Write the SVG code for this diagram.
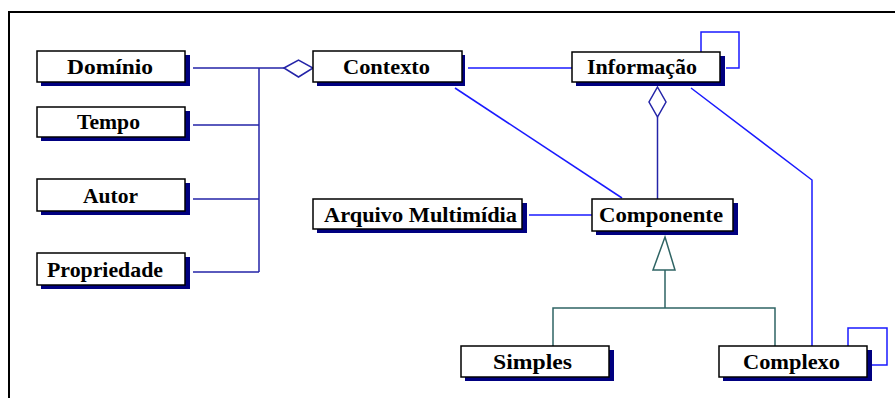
<svg xmlns="http://www.w3.org/2000/svg" width="895" height="398" viewBox="0 0 895 398">
<style>
.sh{fill:#000080}
.bx{fill:#fff;stroke:#000;stroke-width:1.5}
.t{font-family:"Liberation Serif","Times New Roman",serif;font-weight:bold;font-size:21.5px;fill:#000}
.nv{fill:none;stroke:#2424a8;stroke-width:1.5}
.bl{fill:none;stroke:#1a1aff;stroke-width:1.5}
.gn{fill:none;stroke:#2f6464;stroke-width:1.5}
</style>
<rect x="0" y="0" width="895" height="398" fill="#fff"/>
<path d="M9,398 V12 H895" fill="none" stroke="#000" stroke-width="2"/>
<g id="connectors">
<path class="nv" d="M193,68 H284 M259,68 V272 M193,125 H259 M193,199 H259 M193,272 H259"/>
<path class="nv" d="M284,68 L298.5,60 L313,68 L298.5,77 Z" fill="#fff"/>
<path class="bl" d="M468,68 H572"/>
<path class="nv" d="M657.5,117 V199"/>
<path class="nv" d="M657.5,87 L666,102 L657.5,117 L649,102 Z" fill="#fff"/>
<path class="bl" d="M455,88 L622,198"/>
<path class="bl" d="M691,88 L812,180 V346"/>
<path class="bl" d="M529,215 H592"/>
<path class="bl" d="M701,52 V32 H739 V68 H726"/>
<path class="bl" d="M848,346 V328 H887 V365 H872"/>
<path class="gn" d="M665,270 V308 M553,346 V308 H775 V346"/>
<path class="gn" d="M665,237 L675,270 H653 Z" fill="#fff"/>
</g>
<g id="dominio"><rect class="sh" x="41" y="55" width="149" height="31"/><rect class="bx" x="37" y="51" width="148" height="31"/><text class="t" x="67" y="74" textLength="86" lengthAdjust="spacingAndGlyphs">Domínio</text></g>
<g id="tempo"><rect class="sh" x="41" y="111" width="149" height="30"/><rect class="bx" x="37" y="107" width="148" height="30"/><text class="t" x="77" y="129" textLength="63" lengthAdjust="spacingAndGlyphs">Tempo</text></g>
<g id="autor"><rect class="sh" x="41" y="183" width="149" height="32"/><rect class="bx" x="37" y="179" width="148" height="32"/><text class="t" x="83" y="203" textLength="55" lengthAdjust="spacingAndGlyphs">Autor</text></g>
<g id="propriedade"><rect class="sh" x="41" y="257" width="149" height="32"/><rect class="bx" x="37" y="253" width="148" height="32"/><text class="t" x="47" y="277" textLength="116" lengthAdjust="spacingAndGlyphs">Propriedade</text></g>
<g id="contexto"><rect class="sh" x="317" y="55" width="148" height="31"/><rect class="bx" x="313" y="51" width="149" height="31"/><text class="t" x="343" y="74" textLength="87" lengthAdjust="spacingAndGlyphs">Contexto</text></g>
<g id="informacao"><rect class="sh" x="576" y="56" width="149" height="30"/><rect class="bx" x="572" y="52" width="148" height="30"/><text class="t" x="587" y="74" textLength="110" lengthAdjust="spacingAndGlyphs">Informação</text></g>
<g id="arquivo"><rect class="sh" x="317" y="203" width="210" height="30"/><rect class="bx" x="313" y="199" width="209" height="30"/><text class="t" x="324" y="222" textLength="193" lengthAdjust="spacingAndGlyphs">Arquivo Multimídia</text></g>
<g id="componente"><rect class="sh" x="596" y="203" width="142" height="32"/><rect class="bx" x="592" y="199" width="141" height="32"/><text class="t" x="599" y="222" textLength="124" lengthAdjust="spacingAndGlyphs">Componente</text></g>
<g id="simples"><rect class="sh" x="465" y="350" width="149" height="31"/><rect class="bx" x="461" y="346" width="148" height="31"/><text class="t" x="493" y="369" textLength="79" lengthAdjust="spacingAndGlyphs">Simples</text></g>
<g id="complexo"><rect class="sh" x="723" y="350" width="149" height="31"/><rect class="bx" x="719" y="346" width="148" height="31"/><text class="t" x="743" y="369" textLength="97" lengthAdjust="spacingAndGlyphs">Complexo</text></g>
</svg>
